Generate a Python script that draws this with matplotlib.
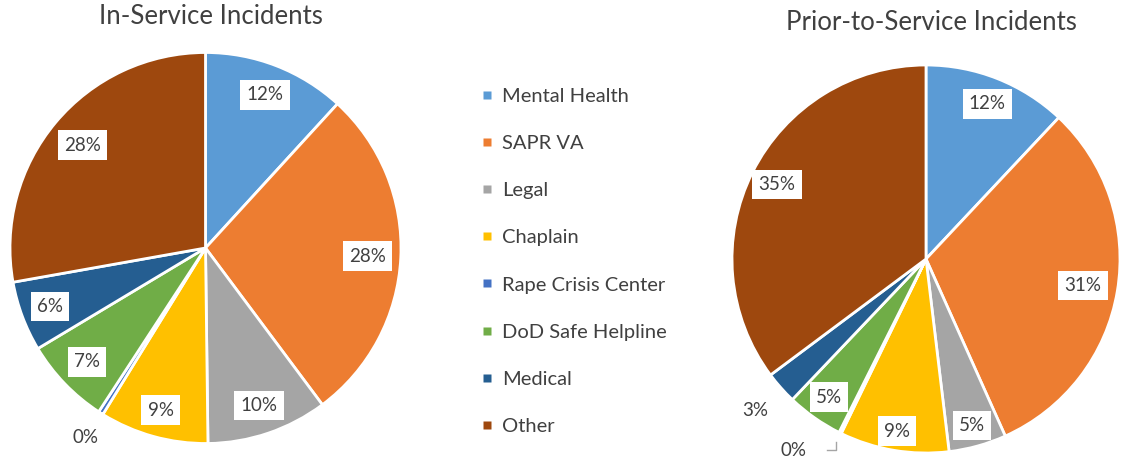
import numpy as np
import matplotlib
matplotlib.use("Agg")
import matplotlib.pyplot as plt
from matplotlib.lines import Line2D

plt.rcParams['font.family'] = ['Lato', 'DejaVu Sans']

categories = ["Mental Health", "SAPR VA", "Legal", "Chaplain",
              "Rape Crisis Center", "DoD Safe Helpline", "Medical", "Other"]
colors = ["#5B9BD5", "#ED7D31", "#A5A5A5", "#FFC000",
          "#4472C4", "#70AD47", "#255E91", "#9E480E"]
in_service = [11.8, 28.0, 10.0, 9.0, 0.4, 7.2, 5.8, 27.8]
prior_service = [12.0, 31.3, 4.8, 9.1, 0.2, 4.7, 2.7, 35.2]
titles = ["In-Service Incidents", "Prior-to-Service Incidents"]

# per-wedge label radius (fraction of pie radius); >1 means outside, no box
label_r_left = [0.84, 0.83, 0.85, 0.86, 1.15, 0.84, 0.85, 0.82]
label_r_right = [0.86, 0.82, 0.89, 0.90, 1.20, 0.87, 1.175, 0.86]
# per-wedge angular shift of the label (degrees, clockwise)
label_shift_left = [0, 0, 0, 0, 0, 0, 0, 0]
label_shift_right = [0, 0, 0, 0, 8.4, 0, 0, 0]

W, H = 1122, 462
fig = plt.figure(figsize=(W / 100, H / 100), dpi=100)
text_color = "#404040"


def add_pie(cx, cy, r, values, label_r, shifts, title, title_xy,
            leader_small=False):
    ax = fig.add_axes([(cx - r) / W, (H - cy - r) / H, 2 * r / W, 2 * r / H])
    ax.pie(values, colors=colors, startangle=90, counterclock=False,
           wedgeprops=dict(edgecolor="white", linewidth=2))
    ax.set_xlim(-1, 1)
    ax.set_ylim(-1, 1)
    total = float(sum(values))
    cum = 0.0
    for i, v in enumerate(values):
        mid = 90 - 360 * (cum + v / 2) / total
        cum += v
        t = np.deg2rad(mid - shifts[i])
        rr = label_r[i]
        x, y = rr * np.cos(t), rr * np.sin(t)
        pct = f"{100 * v / total:.0f}%"
        if rr < 1:
            ax.text(x, y, pct, ha="center", va="center", fontsize=13.5,
                    color=text_color,
                    bbox=dict(facecolor="white", edgecolor="none", pad=4.5))
        else:
            ax.text(x, y, pct, ha="center", va="center", fontsize=13.5,
                    color=text_color, clip_on=False)
            if leader_small and v < 1:
                tm = np.deg2rad(mid)
                ex, ey = 1.05 * np.cos(tm), 1.05 * np.sin(tm)
                ax.plot([x + 0.17, ex, ex], [y, y, ey], color="#A5A5A5",
                        lw=1, clip_on=False)
    fig.text(title_xy[0] / W, 1 - title_xy[1] / H, title, ha="center",
             va="center", fontsize=18.5, color=text_color)
    return ax


add_pie(205.5, 248, 195.5, in_service, label_r_left, label_shift_left,
        titles[0], (211, 17))
add_pie(926, 259, 194, prior_service, label_r_right, label_shift_right,
        titles[1], (931, 22), leader_small=True)

handles = [Line2D([0], [0], marker="s", color="none", markerfacecolor=c,
                  markeredgecolor="none", markersize=6) for c in colors]
fig.legend(handles, categories, loc="upper left",
           bbox_to_anchor=(481 / W, 1 - 88 / H), frameon=False,
           fontsize=14.5, labelspacing=1.49, handlelength=0.6,
           handletextpad=0.45, borderpad=0, borderaxespad=0,
           labelcolor=text_color)

fig.savefig("out.png", dpi=100)
